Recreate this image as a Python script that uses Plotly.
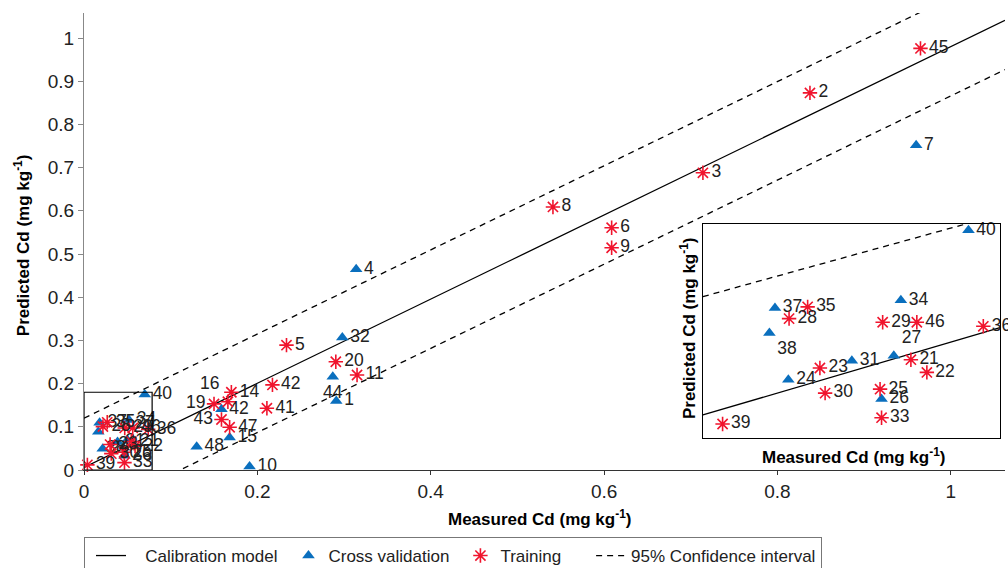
import plotly.graph_objects as go
import numpy as np

# ---------------- data ----------------
# Cross validation points (blue triangles)
cv_ids = ["7", "4", "32", "44", "1", "42", "15", "48", "10",
          "40", "37", "34", "38", "27", "31", "24", "26"]
cv_measured = [0.960, 0.314, 0.298, 0.287, 0.291, 0.1586, 0.168, 0.130, 0.191,
               0.0701, 0.0180, 0.0519, 0.0165, 0.0500, 0.0387, 0.0216, 0.0467]
cv_predicted = [0.752, 0.4645, 0.307, 0.216, 0.160, 0.1404, 0.075, 0.054, 0.008,
                0.1748, 0.1095, 0.1160, 0.0884, 0.0693, 0.0650, 0.0490, 0.0329]
cv_pos = ["middle right", "middle right", "middle right", "bottom center", "middle right",
          "middle right", "middle right", "middle right", "middle right",
          "middle right", "middle right", "middle right", "bottom right", "top right",
          "middle right", "middle right", "middle right"]

# Training points (red asterisks)
tr_ids = ["45", "2", "3", "8", "6", "9", "5", "20", "11", "42", "41", "14", "16", "19", "43", "47",
          "35", "28", "29", "46", "36", "21", "22", "23", "30", "25", "33", "39"]
tr_measured = [0.965, 0.8375, 0.714, 0.541, 0.6087, 0.6087, 0.2336, 0.2905, 0.315, 0.2174, 0.211,
               0.170, 0.166, 0.150, 0.1586, 0.168,
               0.0268, 0.0218, 0.0470, 0.0562, 0.0741, 0.0546, 0.0589, 0.0301, 0.0315, 0.0463,
               0.0467, 0.0039]
tr_predicted = [0.976, 0.873, 0.688, 0.609, 0.561, 0.5146, 0.289, 0.2507, 0.220, 0.197, 0.143,
                0.180, 0.158, 0.153, 0.117, 0.099,
                0.1104, 0.1005, 0.0974, 0.0974, 0.0940, 0.0659, 0.0552, 0.0589, 0.0378, 0.0411,
                0.0171, 0.0118]
tr_pos = ["middle right"] * 12 + ["top left", "middle left", "middle left", "middle right",
                                  "middle right", "middle right", "middle right", "middle right",
                                  "middle right", "middle right", "middle right", "middle right",
                                  "middle right", "middle right", "middle right", "middle right"]

# Calibration model and 95% confidence interval (main plot)
fit_intercept = 0.006
fit_slope = 0.974
ci_halfwidth = 0.114

# Inset (zoom on low concentrations)
inset_x_range = [-0.0014, 0.0786]
inset_y_range = [0.0, 0.18]
inset_fit_intercept = 0.0207
inset_fit_slope = 0.919
inset_upper_intercept = 0.1202
inset_upper_slope = 0.864

main_x_range = [0, 1.0625]
main_y_range = [0, 1.058]
x_ticks = [0, 0.2, 0.4, 0.6, 0.8, 1]
x_tick_labels = ["0", "0.2", "0.4", "0.6", "0.8", "1"]
y_ticks = [0, 0.1, 0.2, 0.3, 0.4, 0.5, 0.6, 0.7, 0.8, 0.9, 1]
y_tick_labels = ["0", "0.1", "0.2", "0.3", "0.4", "0.5", "0.6", "0.7", "0.8", "0.9", "1"]

legend_names = ["Calibration model", "Cross validation", "Training", "95% Confidence interval"]

# ---------------- style ----------------
FONT = "Liberation Sans, Arial, Helvetica, sans-serif"
BLUE = "#0a6fbe"
RED = "#f0142d"
TXT = "#222222"
LBL = 17.5
DASH = "6px,5px"
NB = "\u00a0"

fig = go.Figure()

xl = np.array(main_x_range)
fig.add_trace(go.Scatter(x=xl, y=fit_intercept + fit_slope * xl, mode="lines",
                         line=dict(color="black", width=1.3), name=NB * 3 + legend_names[0],
                         xaxis="x", yaxis="y"))

def marker_cv():
    return dict(symbol="triangle-up", size=11, color=BLUE, line=dict(width=0))

def marker_tr():
    return dict(symbol="asterisk-open", size=12, color=RED, line=dict(color=RED, width=1.6))

fig.add_trace(go.Scatter(x=cv_measured, y=cv_predicted, mode="markers+text", text=cv_ids,
                         textposition=cv_pos, textfont=dict(family=FONT, size=LBL, color=TXT),
                         marker=marker_cv(), name=legend_names[1], xaxis="x", yaxis="y",
                         cliponaxis=False))
fig.add_trace(go.Scatter(x=tr_measured, y=tr_predicted, mode="markers+text", text=tr_ids,
                         textposition=tr_pos, textfont=dict(family=FONT, size=LBL, color=TXT),
                         marker=marker_tr(), name=legend_names[2] + NB * 4, xaxis="x", yaxis="y",
                         cliponaxis=False))
fig.add_trace(go.Scatter(x=xl, y=fit_intercept + fit_slope * xl + ci_halfwidth, mode="lines",
                         line=dict(color="black", width=1.3, dash=DASH),
                         name=legend_names[3], xaxis="x", yaxis="y"))
fig.add_trace(go.Scatter(x=xl, y=fit_intercept + fit_slope * xl - ci_halfwidth, mode="lines",
                         line=dict(color="black", width=1.3, dash=DASH),
                         showlegend=False, xaxis="x", yaxis="y"))

# inset traces
xi = np.array(inset_x_range)
fig.add_trace(go.Scatter(x=xi, y=inset_fit_intercept + inset_fit_slope * xi, mode="lines",
                         line=dict(color="black", width=1.3), showlegend=False,
                         xaxis="x2", yaxis="y2"))
fig.add_trace(go.Scatter(x=xi, y=inset_upper_intercept + inset_upper_slope * xi, mode="lines",
                         line=dict(color="black", width=1.3, dash=DASH), showlegend=False,
                         xaxis="x2", yaxis="y2"))
in_cv = [i for i, (a, b) in enumerate(zip(cv_measured, cv_predicted))
         if inset_x_range[0] <= a <= inset_x_range[1] and b <= inset_y_range[1]]
in_tr = [i for i, (a, b) in enumerate(zip(tr_measured, tr_predicted))
         if inset_x_range[0] <= a <= inset_x_range[1] and b <= inset_y_range[1]]
fig.add_trace(go.Scatter(x=[cv_measured[i] for i in in_cv], y=[cv_predicted[i] for i in in_cv],
                         text=[cv_ids[i] for i in in_cv], textposition=[cv_pos[i] for i in in_cv],
                         mode="markers+text", textfont=dict(family=FONT, size=LBL, color=TXT),
                         marker=marker_cv(), showlegend=False, xaxis="x2", yaxis="y2",
                         cliponaxis=False))
fig.add_trace(go.Scatter(x=[tr_measured[i] for i in in_tr], y=[tr_predicted[i] for i in in_tr],
                         text=[tr_ids[i] for i in in_tr], textposition=[tr_pos[i] for i in in_tr],
                         mode="markers+text", textfont=dict(family=FONT, size=LBL, color=TXT),
                         marker=marker_tr(), showlegend=False, xaxis="x2", yaxis="y2",
                         cliponaxis=False))

# rectangle marking the zoomed area
fig.add_shape(type="rect", xref="x", yref="y", x0=0, x1=inset_x_range[1],
              y0=inset_y_range[0], y1=inset_y_range[1], line=dict(color="black", width=1.2))

# titles
title_font = dict(family=FONT, size=17, color="black")
ann = dict(xref="paper", yref="paper", showarrow=False, font=title_font,
           xanchor="center", yanchor="middle")
fig.add_annotation(text="<b>Measured Cd (mg kg<sup>-1</sup>)</b>", x=0.495, y=-0.105, **ann)
fig.add_annotation(text="<b>Predicted Cd (mg kg<sup>-1</sup>)</b>", x=-0.0673, y=0.492,
                   textangle=-90, **ann)
fig.add_annotation(text="<b>Measured Cd (mg kg<sup>-1</sup>)</b>", x=0.835, y=0.0306, **ann)
fig.add_annotation(text="<b>Predicted Cd (mg kg<sup>-1</sup>)</b>", x=0.656, y=0.311,
                   textangle=-90, **ann)

fig.update_layout(
    width=1008, height=568,
    margin=dict(l=84, r=3, t=13, b=98, autoexpand=False),
    paper_bgcolor="white", plot_bgcolor="white",
    font=dict(family=FONT, size=17, color=TXT),
    showlegend=True,
    legend=dict(orientation="h", x=84 / 1008, xanchor="left", xref="container",
                y=1 - 537 / 568, yanchor="top", yref="container",
                bordercolor="#777777", borderwidth=1, font=dict(family=FONT, size=17, color=TXT),
                itemwidth=30, indentation=6),
    xaxis=dict(range=main_x_range, tickvals=x_ticks, ticktext=x_tick_labels,
               showgrid=False, zeroline=False, showline=True, linecolor="#333333",
               ticks="outside", ticklen=4, tickcolor="#333333",
               tickfont=dict(family=FONT, size=19, color=TXT), domain=[0, 1]),
    yaxis=dict(range=main_y_range, tickvals=y_ticks, ticktext=y_tick_labels,
               showgrid=False, zeroline=False, showline=True, linecolor="#888888",
               ticks="outside", ticklen=5, tickcolor="#888888",
               tickfont=dict(family=FONT, size=19, color=TXT), domain=[0, 1]),
    xaxis2=dict(range=inset_x_range, domain=[0.672, 0.9946], anchor="y2",
                showgrid=False, zeroline=False, showline=True, mirror=True,
                linecolor="black", showticklabels=False, ticks=""),
    yaxis2=dict(range=inset_y_range, domain=[0.070, 0.538], anchor="x2",
                showgrid=False, zeroline=False, showline=True, mirror=True,
                linecolor="black", showticklabels=False, ticks=""),
)

fig.write_html("out.html")
